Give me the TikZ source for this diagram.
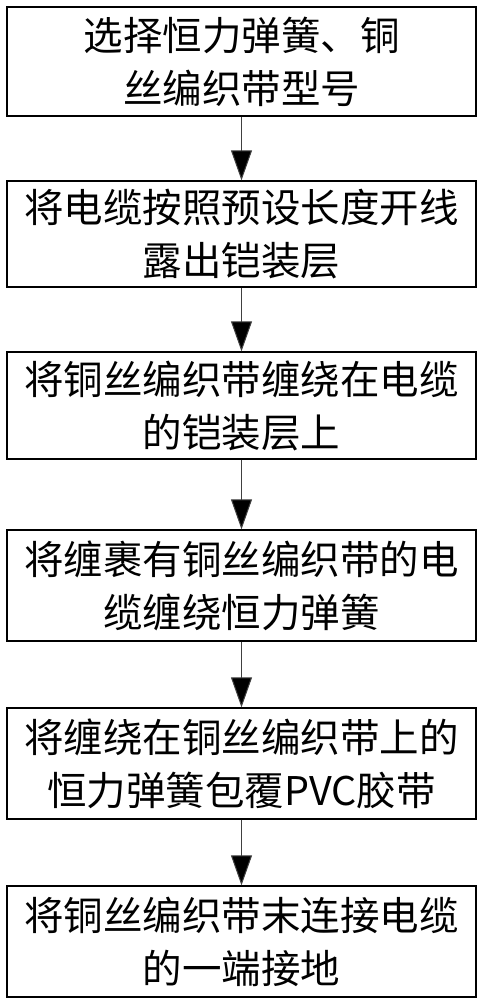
\documentclass[tikz,border=0pt]{standalone}
\usepackage{fontspec}
\newfontfamily\cjk{Noto Sans CJK SC}
\usetikzlibrary{arrows.meta}
\begin{document}
\begin{tikzpicture}[x=1pt,y=-1pt,
  stepbox/.style={draw=black, line width=1.3pt, minimum width=469pt, minimum height=109pt,
    inner sep=0pt, align=center, font=\cjk\fontsize{39.5}{53}\selectfont},
  flow/.style={draw=black!75, line width=1pt, -{Triangle[width=21pt,length=30pt,fill=black]}}]
\useasboundingbox (0,0) rectangle (484,1000);
\node[stepbox] (b1) at (241.5,61.5) {选择恒力弹簧、铜\\丝编织带型号};
\node[stepbox, minimum height=106pt] (b2) at (241.5,234) {将电缆按照预设长度开线\\露出铠装层};
\node[stepbox, minimum height=107pt] (b3) at (241.5,405.5) {将铜丝编织带缠绕在电缆\\的铠装层上};
\node[stepbox, minimum height=111pt] (b4) at (241.5,585.5) {将缠裹有铜丝编织带的电\\缆缠绕恒力弹簧};
\node[stepbox, minimum height=111pt] (b5) at (241.5,763.5) {将缠绕在铜丝编织带上的\\恒力弹簧包覆PVC胶带};
\node[stepbox, minimum height=111pt] (b6) at (241.5,941.5) {将铜丝编织带末连接电缆\\的一端接地};
\draw[flow] (b1.south) -- (b2.north);
\draw[flow] (b2.south) -- (b3.north);
\draw[flow] (b3.south) -- (b4.north);
\draw[flow] (b4.south) -- (b5.north);
\draw[flow] (b5.south) -- (b6.north);
\end{tikzpicture}
\end{document}
